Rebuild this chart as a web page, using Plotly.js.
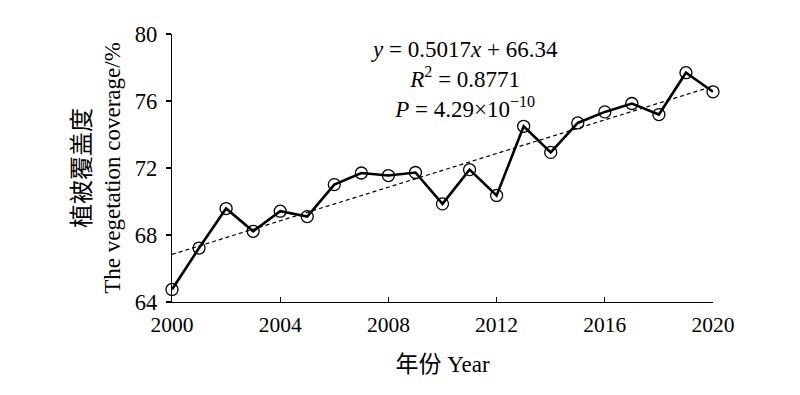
<!DOCTYPE html>
<html>
<head>
<meta charset="utf-8">
<script src="https://cdn.plot.ly/plotly-3.0.1.min.js"></script>
<style>html,body{margin:0;padding:0;background:#fff;}#chart{width:800px;height:395px;}</style>
</head>
<body>
<div id="chart"></div>
<script>
const years = [2000,2001,2002,2003,2004,2005,2006,2007,2008,2009,2010,2011,2012,2013,2014,2015,2016,2017,2018,2019,2020];
const coverage = [64.75,67.22,69.58,68.22,69.42,69.10,71.01,71.70,71.55,71.73,69.86,71.90,70.36,74.49,72.93,74.69,75.35,75.85,75.19,77.69,76.55];
const trendYears = [2000, 2020];
const trendValues = [66.84, 76.88];
const xTicks = [2000,2004,2008,2012,2016,2020];
const yTicks = [64,68,72,76,80];

const serif = '"Times New Roman", "Liberation Serif", "Noto Sans CJK SC", serif';

const traces = [
  {
    x: trendYears, y: trendValues, mode: 'lines', type: 'scatter',
    line: {color: '#000', width: 1.2, dash: '4px,3px'},
    hoverinfo: 'skip', showlegend: false
  },
  {
    x: years, y: coverage, mode: 'lines+markers', type: 'scatter',
    line: {color: '#000', width: 2.6},
    marker: {symbol: 'circle-open', size: 12, color: '#000', line: {width: 1.3, color: '#000'}},
    cliponaxis: false, showlegend: false
  }
];

const layout = {
  width: 800, height: 395,
  margin: {l: 172, r: 87, t: 34, b: 93},
  paper_bgcolor: '#fff', plot_bgcolor: '#fff',
  font: {family: serif, size: 22, color: '#000'},
  showlegend: false,
  xaxis: {
    range: [2000, 2020], tickvals: xTicks, ticktext: xTicks.map(String),
    showgrid: false, zeroline: false, showline: true, linecolor: '#000', linewidth: 1.3,
    ticks: 'inside', ticklen: 5, tickwidth: 1.2, tickcolor: '#000',
    tickfont: {family: serif, size: 21.5}, ticklabelstandoff: 3,
    title: {text: '年份 Year', font: {family: serif, size: 23}, standoff: 19}
  },
  yaxis: {
    range: [64, 80], tickvals: yTicks, ticktext: yTicks.map(String),
    showgrid: false, zeroline: false, showline: true, linecolor: '#000', linewidth: 1.3,
    ticks: 'outside', ticklen: 5, tickwidth: 1.2, tickcolor: '#000',
    tickfont: {family: serif, size: 22.5}, ticklabelstandoff: 4,
    title: {text: '<span style="font-size:24px">植被覆盖度</span><br>The vegetation coverage/%', font: {family: serif, size: 23}, standoff: 7}
  },
  annotations: [
    {
      xref: 'paper', yref: 'paper', x: 0.54, y: 0.83, xanchor: 'center', yanchor: 'middle',
      showarrow: false, align: 'center',
      text: '<i>y</i> = 0.5017<i>x</i> + 66.34<br><i>R</i><sup>2</sup> = 0.8771<br><i>P</i> = 4.29×10<sup>−10</sup>',
      font: {family: serif, size: 23, color: '#000'}
    }
  ]
};

Plotly.newPlot('chart', traces, layout, {displayModeBar: false, staticPlot: true});
</script>
</body>
</html>
